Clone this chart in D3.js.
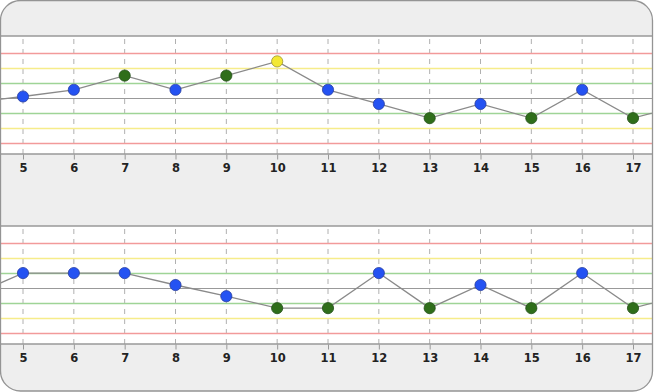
<!DOCTYPE html>
<html lang="en">
<head>
<meta charset="UTF-8">
<title>QC charts</title>
<script src="https://cdn.jsdelivr.net/npm/d3@7"></script>
<style>
    body { margin: 0; background: #fff; }
    .axis text { font-family: "DejaVu Sans", Verdana, sans-serif; font-size: 11.5px; font-weight: bold; fill: #222; }
    .axis line { stroke: #999; }
    .axis path { display: none; }
</style>
</head>
<body>
<script>
// run numbers (4 and 18 sit just outside the visible window)
var runs = [4, 5, 6, 7, 8, 9, 10, 11, 12, 13, 14, 15, 16, 17, 18];
var tickLabels = [5, 6, 7, 8, 9, 10, 11, 12, 13, 14, 15, 16, 17];
// values in SD units from the mean
var topValues = [-0.3, 0.1, 0.55, 1.5, 0.55, 1.5, 2.45, 0.55, -0.4, -1.35, -0.4, -1.35, 0.55, -1.35, -0.45];
var bottomValues = [-0.5, 1.0, 1.0, 1.0, 0.2, -0.55, -1.35, -1.35, 1.0, -1.35, 0.2, -1.35, 1.0, -1.35, -0.45];
// control limit lines
var limits = [3, 2, 1, 0, -1, -2, -3];

var width = 654, height = 392;
var svg = d3.select("body").append("svg")
    .attr("width", width)
    .attr("height", height);

// panel background
svg.append("rect")
    .attr("x", 0.5).attr("y", 0.5)
    .attr("width", 652).attr("height", 390.5)
    .attr("rx", 20).attr("ry", 20)
    .attr("fill", "#eeeeee");

var plotLeft = 1, plotRight = 652;
var x = d3.scaleLinear().domain([5, 17]).range([23, 633]);

function limitColor(d) {
    var a = Math.abs(d);
    if (a === 0) return "#999999";
    if (a === 1) return "#9fd496";
    if (a === 2) return "#f6ec8a";
    return "#f29a9a";
}
function pointFill(v) {
    var a = Math.abs(v);
    if (a <= 1) return "#2452f2";
    if (a <= 2) return "#2f6e1a";
    if (a <= 3) return "#f3e832";
    return "#e02020";
}
function pointStroke(v) {
    var a = Math.abs(v);
    if (a <= 1) return "#2a3fa0";
    if (a <= 2) return "#24501a";
    return "#9c9230";
}

function drawChart(top, values, id) {
    var bottom = top + 118;
    var y = d3.scaleLinear().domain([-3.75, 4.15]).range([bottom, top]);
    var g = svg.append("g");

    g.append("clipPath").attr("id", id)
        .append("rect")
        .attr("x", plotLeft).attr("y", top)
        .attr("width", plotRight - plotLeft).attr("height", bottom - top);

    g.append("rect")
        .attr("x", plotLeft).attr("y", top)
        .attr("width", plotRight - plotLeft).attr("height", bottom - top)
        .attr("fill", "#fff");

    // dashed vertical grid
    g.selectAll(".vgrid").data(tickLabels).enter()
        .append("line")
        .attr("x1", function (d) { return x(d); })
        .attr("x2", function (d) { return x(d); })
        .attr("y1", top + 3).attr("y2", bottom)
        .attr("stroke", "#b0b0b0")
        .attr("stroke-dasharray", "5,5");

    // limit lines
    g.selectAll(".limit").data(limits).enter()
        .append("line")
        .attr("x1", plotLeft).attr("x2", plotRight)
        .attr("y1", function (d) { return Math.round(y(d)) + 0.5; })
        .attr("y2", function (d) { return Math.round(y(d)) + 0.5; })
        .attr("stroke", limitColor)
        .attr("stroke-width", function (d) { return d === 0 ? 1.2 : 1.5; });

    var pts = runs.map(function (r, i) { return [r, values[i]]; });
    var line = d3.line()
        .x(function (d) { return x(d[0]); })
        .y(function (d) { return y(d[1]); });

    var inner = g.append("g").attr("clip-path", "url(#" + id + ")");
    inner.append("path")
        .datum(pts)
        .attr("d", line)
        .attr("fill", "none")
        .attr("stroke", "#8a8a8a")
        .attr("stroke-width", 1.3);

    inner.selectAll("circle").data(pts).enter()
        .append("circle")
        .attr("cx", function (d) { return x(d[0]); })
        .attr("cy", function (d) { return y(d[1]); })
        .attr("r", 5.6)
        .attr("fill", function (d) { return pointFill(d[1]); })
        .attr("stroke", function (d) { return pointStroke(d[1]); })
        .attr("stroke-width", 0.8);

    // plot borders
    [top, bottom].forEach(function (yy) {
        g.append("line")
            .attr("x1", plotLeft).attr("x2", plotRight)
            .attr("y1", yy).attr("y2", yy)
            .attr("stroke", "#999")
            .attr("stroke-width", 1.6);
    });

    var axis = d3.axisBottom(x)
        .tickValues(tickLabels)
        .tickSizeInner(5)
        .tickSizeOuter(0)
        .tickPadding(4)
        .tickFormat(d3.format("d"));
    g.append("g")
        .attr("class", "axis")
        .attr("transform", "translate(0," + (bottom + 0.5) + ")")
        .call(axis);
}

drawChart(36, topValues, "clipTop");
drawChart(226, bottomValues, "clipBottom");

// panel border on top
svg.append("rect")
    .attr("x", 0.5).attr("y", 0.5)
    .attr("width", 652).attr("height", 390.5)
    .attr("rx", 20).attr("ry", 20)
    .attr("fill", "none")
    .attr("stroke", "#949494")
    .attr("stroke-width", 1.3);
</script>
</body>
</html>
